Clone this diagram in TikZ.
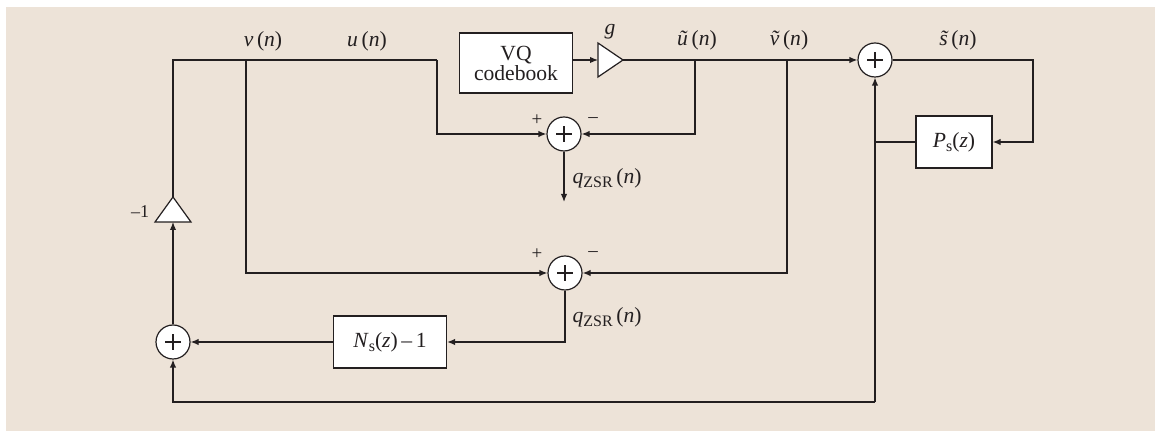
\documentclass[tikz,border=0pt]{standalone}
\usepackage{fontspec}
\setmainfont{Liberation Serif}
\usetikzlibrary{arrows.meta}
\definecolor{bgc}{RGB}{237,227,216}
\definecolor{ink}{RGB}{35,31,32}
\newcommand\tld[1]{{\accent"02DC #1}}
\newcommand\sbs[1]{\raisebox{-2.2pt}{\fontsize{8}{9}\selectfont #1}}
\begin{document}
\begin{tikzpicture}[x=0.5pt,y=-0.5pt,
  line width=0.6pt, draw=ink, text=ink,
  font=\fontsize{10.8}{12}\selectfont,
  arr/.style={-{Latex[length=4pt,width=3.2pt]}},
  blockbox/.style={draw=ink,fill=white,inner sep=0pt,align=center},
  sumnode/.style={circle,draw=ink,fill=white,minimum size=17pt,inner sep=0pt,
    path picture={
      \draw[line width=0.6pt] ([xshift=-3.8pt]path picture bounding box.center) -- ([xshift=3.8pt]path picture bounding box.center);
      \draw[line width=0.6pt] ([yshift=-3.8pt]path picture bounding box.center) -- ([yshift=3.8pt]path picture bounding box.center);}},
  lbl/.style={inner sep=0pt},
  sgn/.style={inner sep=0pt,font=\fontsize{9.5}{10}\selectfont}]
\useasboundingbox (0,0) rectangle (1155,431);
\fill[bgc] (6,7) rectangle (1155,431);

% blocks
\node[blockbox,minimum width=56.5pt,minimum height=30pt] (vq) at (516,63) {VQ\\[-2pt]codebook};
\node[blockbox,minimum width=38pt,minimum height=26pt] (ps) at (954,142) {\textit{P}\sbs{s}(\textit{z})};
\node[blockbox,minimum width=56.5pt,minimum height=26pt] (ns) at (390,342) {\textit{N}\sbs{s}(\textit{z})\,–\,1};

% summing junctions
\node[sumnode] (s1) at (564,134) {};
\node[sumnode] (s2) at (565,273) {};
\node[sumnode] (s3) at (875,60) {};
\node[sumnode] (s4) at (173,342) {};

% gain triangles
\draw[fill=white] (598,43) -- (623,60) -- (598,77) -- cycle;
\coordinate (gin) at (598,60);
\coordinate (gout) at (623,60);
\draw[fill=white] (155,222) -- (191,222) -- (173,197) -- cycle;
\coordinate (min) at (173,222);
\coordinate (mout) at (173,197);

% helper coordinates
\coordinate (tl) at (173,60);
\coordinate (vb) at (246,60);
\coordinate (ub) at (437,60);
\coordinate (utb) at (695,60);
\coordinate (vtb) at (787,60);
\coordinate (rc) at (1033,60);
\coordinate (jn) at (875,142);
\coordinate (bl) at (875,402);
\coordinate (q1) at (564,202);

% connectors
\draw (mout) -- (tl) -- (ub);
\draw[arr] (ub) |- (s1.west);
\draw[arr] (vb) |- (s2.west);
\draw[arr] (vq.east |- gin) -- (gin);
\draw[arr] (gout) -- (s3.west);
\draw[arr] (utb) |- (s1.east);
\draw[arr] (vtb) |- (s2.east);
\draw[arr] (s1.south) -- (q1);
\draw[arr] (s2.south) |- (ns.east);
\draw[arr] (ns.west) -- (s4.east);
\draw[arr] (s4.north) -- (min);
\draw[arr] (s3.east) -| (rc) |- (ps.east);
\draw (ps.west) -- (jn);
\draw[arr] (bl) -- (s3.south);
\draw[arr] (bl) -| (s4.south);

% labels
\node[lbl] (lv) at (263,41) {\textit{v}\,(\textit{n})};
\node[lbl] (lu) at (367,41) {\textit{u}\,(\textit{n})};
\node[lbl] (lg) at (610,32) {\textit{g}};
\node[lbl] (lut) at (697,40) {\textit{\tld{u}}\,(\textit{n})};
\node[lbl] (lvt) at (789,40) {\textit{\tld{v}}\,(\textit{n})};
\node[lbl] (lst) at (958,40) {\textit{\tld{s}}\,(\textit{n})};
\node[lbl,anchor=west] (lq1) at (572,178) {\textit{q}\sbs{ZSR}\,(\textit{n})};
\node[lbl,anchor=west] (lq2) at (572,317) {\textit{q}\sbs{ZSR}\,(\textit{n})};
\node[lbl,font=\fontsize{9}{10}\selectfont] (lm1) at (140,212) {–1};
\node[sgn] (p1) at (537,120) {+};
\node[sgn] (m1) at (593,120) {–};
\node[sgn] (p2) at (537,254) {+};
\node[sgn] (m2) at (593,254) {–};
\end{tikzpicture}
\end{document}
